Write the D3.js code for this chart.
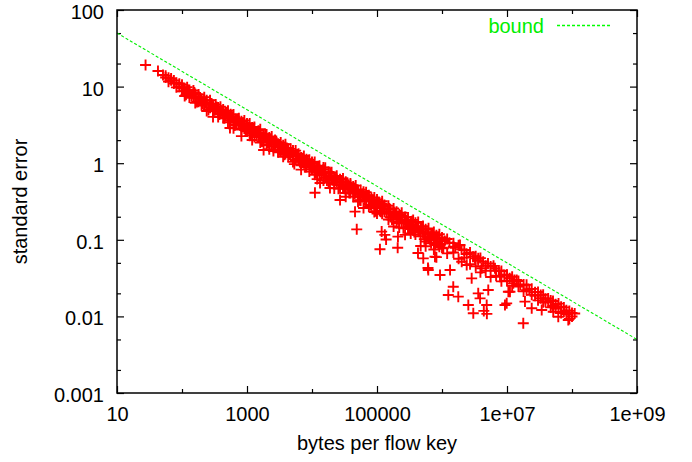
<!DOCTYPE html>
<html><head><meta charset="utf-8">
<script src="https://cdn.jsdelivr.net/npm/d3@7"></script>
<style>body{margin:0;background:#fff} svg text{font-family:"Liberation Sans",Arial,Helvetica,sans-serif}</style>
</head><body><svg id="c" width="692" height="462"></svg>
<script>
const xMajorTicks = [10, 1e3, 1e5, 1e7, 1e9];
const xTickLabels = ["10", "1000", "100000", "1e+07", "1e+09"];
const xMinorTicks = [1e2, 1e4, 1e6, 1e8];
const yMajorTicks = [0.001, 0.01, 0.1, 1, 10, 100];
const yTickLabels = ["0.001", "0.01", "0.1", "1", "10", "100"];
const yMinorTicks = [0.002, 0.005, 0.02, 0.05, 0.2, 0.5, 2, 5, 20, 50];
const boundX = [10, 1e9];
const boundY = [50, 0.005];

// measured points [bytes per flow key, standard error]
const mainBand = [
[27.5,19.1],[42.7,16.0],[51,14.2],[56,13.1],[56,13.9],[62,13.05],[62,11.6],[68,12.1],[68,12.8],[75,10.95],[75,12.0],[82,11.2],[82,9.78],[91,10.9],[91,9.94],
[100,10.6],[100,8.70],[110,9.49],[110,7.54],[120,9.81],[120,8.23],[130,9.02],[130,7.21],[150,8.91],[150,7.49],[160,8.00],[160,6.13],[180,7.89],[180,6.36],[200,6.93],[200,5.70],[220,7.25],[220,5.97],[240,6.64],[240,4.80],[270,6.64],[270,5.29],[300,5.75],[300,4.75],[300,4.02],[330,5.83],[330,5.05],[360,5.33],[360,4.00],[390,5.45],[390,4.41],[430,5.03],[430,3.89],[470,4.59],[470,4.16],[510,4.83],[510,3.43],[560,4.34],[560,3.61],[620,4.32],[620,2.86],[680,3.76],[680,3.21],[750,3.87],[750,3.23],[820,3.53],[820,2.76],[820,2.26],[910,3.62],[910,2.83],[547,2.88],
[1000,3.30],[1000,2.60],[1000,2.95],[1100,3.29],[1100,2.29],[1200,2.92],[1200,2.51],[1200,2.01],[1300,2.98],[1300,2.19],[1500,2.65],[1500,2.33],[1600,2.77],[1600,1.86],[1600,2.37],[1800,2.35],[1800,1.97],[1800,1.49],[2000,2.37],[2000,1.73],[2200,2.16],[2200,1.89],[2200,1.52],[2400,2.23],[2400,1.65],[2700,2.01],[2700,1.76],[3000,1.79],[3000,1.39],[3000,1.59],[3300,1.87],[3300,1.46],[3600,1.71],[3600,1.21],[3900,1.77],[3900,1.42],[3900,1.55],[4300,1.54],[4300,1.21],[4700,1.54],[4700,1.24],[5100,1.39],[5100,1.04],[5100,1.28],[5600,1.46],[5600,1.10],[6200,1.33],[6200,1.14],[6800,1.19],[6800,0.939],[6800,0.824],[7500,1.24],[7500,1.00],[8200,1.13],[8200,0.890],[8200,1.03],[9100,1.11],[9100,0.779],
[1e4,1.04],[1e4,0.838],[1e4,0.933],[1.1e4,1.04],[1.1e4,0.708],[1.2e4,0.909],[1.2e4,0.794],[1.2e4,0.620],[1.3e4,0.929],[1.3e4,0.694],[1.5e4,0.826],[1.5e4,0.736],[1.5e4,0.594],[1.6e4,0.875],[1.6e4,0.650],[1.8e4,0.766],[1.8e4,0.565],[1.8e4,0.683],[2e4,0.760],[2e4,0.604],[2.2e4,0.661],[2.2e4,0.533],[2.2e4,0.469],[2.4e4,0.684],[2.4e4,0.572],[2.7e4,0.616],[2.7e4,0.471],[2.7e4,0.568],[3e4,0.630],[3e4,0.484],[3.3e4,0.574],[3.3e4,0.409],[3.3e4,0.365],[3.6e4,0.525],[3.6e4,0.458],[3.9e4,0.545],[3.9e4,0.409],[3.9e4,0.481],[4.3e4,0.495],[4.3e4,0.366],[4.7e4,0.510],[4.7e4,0.408],[5.1e4,0.448],[5.1e4,0.364],[5.1e4,0.315],[5.6e4,0.448],[5.6e4,0.327],[6.2e4,0.400],[6.2e4,0.362],[6.2e4,0.260],[6.8e4,0.418],[6.8e4,0.321],[7.5e4,0.381],[7.5e4,0.271],[7.5e4,0.335],[8.2e4,0.353],[8.2e4,0.282],[9.1e4,0.356],[9.1e4,0.288],[9.1e4,0.231],
[1e5,0.335],[1e5,0.260],[1e5,0.220],[1.1e5,0.305],[1.1e5,0.267],[1.2e5,0.319],[1.2e5,0.219],[1.2e5,0.274],[1.3e5,0.285],[1.3e5,0.232],[1.5e5,0.278],[1.5e5,0.184],[1.5e5,0.233],[1.6e5,0.249],[1.6e5,0.198],[1.8e5,0.257],[1.8e5,0.205],[1.8e5,0.149],[2e5,0.233],[2e5,0.166],[2.2e5,0.216],[2.2e5,0.196],[2.2e5,0.145],[2.4e5,0.226],[2.4e5,0.165],[2.7e5,0.198],[2.7e5,0.164],[2.7e5,0.116],[3e5,0.196],[3e5,0.141],[3.3e5,0.173],[3.3e5,0.154],[3.3e5,0.121],[3.6e5,0.182],[3.6e5,0.132],[3.9e5,0.167],[3.9e5,0.117],[3.9e5,0.147],[4.3e5,0.171],[4.3e5,0.128],[4.7e5,0.148],[4.7e5,0.111],[4.7e5,0.0830],[5.1e5,0.151],[5.1e5,0.122],[5.6e5,0.137],[5.6e5,0.0950],[5.6e5,0.0824],[6.2e5,0.141],[6.2e5,0.104],[6.8e5,0.121],[6.8e5,0.0901],[6.8e5,0.109],[7.5e5,0.126],[7.5e5,0.0748],[8.2e5,0.115],[8.2e5,0.0925],[8.2e5,0.0594],[9.1e5,0.118],[9.1e5,0.0812],
[1e6,0.1075],[1e6,0.0791],[1.1e6,0.0964],[1.2e6,0.1025],[1.2e6,0.0664],[1.3e6,0.0915],[1.5e6,0.0904],[1.5e6,0.0684],[1.6e6,0.0788],[1.8e6,0.0848],[1.8e6,0.0565],[2e6,0.0749],[2.2e6,0.0736],[2.2e6,0.0586],[2.4e6,0.0653],[2.7e6,0.0683],[2.7e6,0.0481],[3e6,0.0603],[3.3e6,0.0609],[3.3e6,0.0452],[3.6e6,0.0541],[3.9e6,0.0577],[3.9e6,0.0376],[4.3e6,0.0518],[4.7e6,0.0459],[4.7e6,0.0394],[5.1e6,0.0490],[5.6e6,0.0448],[5.6e6,0.0327],[6.2e6,0.0457],[6.8e6,0.0394],[6.8e6,0.0339],[7.5e6,0.0398],[8.2e6,0.0392],[8.2e6,0.0287],[9.1e6,0.0346],
[1e7,0.0350],[1e7,0.0290],[1.1e7,0.0315],[1.2e7,0.0329],[1.2e7,0.0251],[1.3e7,0.0298],[1.5e7,0.0290],[1.5e7,0.0245],[1.6e7,0.0257],[1.8e7,0.0261],[1.8e7,0.0212],[2e7,0.0258],[2e7,0.0219],[2.2e7,0.0226],[2.4e7,0.0229],[2.4e7,0.0191],[2.7e7,0.0207],[2.7e7,0.0186],[3e7,0.0208],[3e7,0.0162],[3.3e7,0.0190],[3.3e7,0.0173],[3.6e7,0.0192],[3.6e7,0.0153],[3.9e7,0.0170],[3.9e7,0.0155],[4.3e7,0.0171],[4.3e7,0.0154],[4.7e7,0.0161],[4.7e7,0.0131],[5.1e7,0.0159],[5.1e7,0.0137],[5.6e7,0.0144],[5.6e7,0.0127],[6.2e7,0.0147],[6.2e7,0.0131],[6.8e7,0.0134],[6.8e7,0.0111],[7.5e7,0.0131],[7.5e7,0.0115],[8.2e7,0.0120],[8.2e7,0.0107],[9.1e7,0.0118],[9.1e7,0.00928],[1e8,0.0111],[1e8,0.00996],[1.1e8,0.0109]
];

const bandMiddle = [
[100,9.49],[110,8.74],[120,8.80],[130,8.18],[150,8.00],[160,7.13],[180,7.07],[200,6.37],[220,6.61],[240,5.92],[270,5.87],[300,5.30],[330,5.39],[360,4.75],[390,4.89],[430,4.50],[470,4.37],[510,4.06],[560,4.07],[620,3.62],[680,3.58],[750,3.52],[820,3.20],[910,3.25],
[1000,3.15],[1100,2.76],[1200,2.74],[1300,2.59],[1500,2.49],[1600,2.21],[1800,2.16],[2000,2.12],[2200,2.09],[2400,1.87],[2700,1.89],[3000,1.73],[3300,1.65],[3600,1.53],[3900,1.32],[4300,1.40],[4700,1.38],[5100,1.46],[5600,1.27],[6200,1.22],[6800,1.09],[7500,1.11],[8200,0.960],[9100,0.961],
[1e4,0.996],[1.1e4,0.874],[1.2e4,0.851],[1.3e4,0.832],[1.5e4,0.878],[1.6e4,0.738],[1.8e4,0.624],[2e4,0.682],[2.2e4,0.608],[2.4e4,0.623],[2.7e4,0.519],[3e4,0.557],[3.3e4,0.496],[3.6e4,0.491],[3.9e4,0.521],[4.3e4,0.442],[4.7e4,0.452],[5.1e4,0.413],[5.6e4,0.387],[6.2e4,0.425],[6.8e4,0.364],[7.5e4,0.364],[8.2e4,0.315],[9.1e4,0.320],
[1e5,0.300],[1.1e5,0.238],[1.2e5,0.297],[1.3e5,0.259],[1.5e5,0.253],[1.6e5,0.225],[1.8e5,0.231],[2e5,0.202],[2.2e5,0.172],[2.4e5,0.197],[2.7e5,0.183],[3e5,0.167],[3.3e5,0.138],[3.6e5,0.158],[3.9e5,0.132],[4.3e5,0.147],[4.7e5,0.129],[5.1e5,0.135],[5.6e5,0.122],[6.2e5,0.122],[6.8e5,0.0996],[7.5e5,0.104],[8.2e5,0.105],[9.1e5,0.0961]
];

const bandInterleaved = [
[105,9.57],[115,7.81],[125,9.05],[140,7.48],[155,8.38],[170,6.31],[190,7.23],[210,6.00],[230,6.25],[255,4.95],[285,6.00],[315,4.90],[345,5.36],[375,4.32],[410,4.84],[450,3.87],[490,4.64],[535,3.83],[590,3.97],[650,3.10],[715,3.78],[785,3.10],[865,3.34],[955,2.66],
[1050,2.98],[1150,2.42],[1250,2.86],[1400,2.32],[1550,2.49],[1700,1.92],[1900,2.39],[2100,1.86],[2300,2.01],[2550,1.44],[2850,1.87],[3150,1.49],[3450,1.62],[3750,1.29],[4100,1.58],[4500,1.30],[4900,1.38],[5350,0.973],[5900,1.30],[6500,1.04],[7150,1.12],[7850,0.893],[8650,1.09],[9550,0.890],
[1.05e4,0.926],[1.15e4,0.752],[1.25e4,0.891],[1.4e4,0.721],[1.55e4,0.775],[1.7e4,0.594],[1.9e4,0.734],[2.1e4,0.600],[2.3e4,0.625],[2.55e4,0.465],[2.85e4,0.581],[3.15e4,0.463],[3.45e4,0.553],[3.75e4,0.408],[4.1e4,0.469],[4.5e4,0.402],[4.9e4,0.450],[5.35e4,0.328],[5.9e4,0.397],[6.5e4,0.329],[7.15e4,0.378],[7.85e4,0.288],[8.65e4,0.323],[9.55e4,0.236],
[1.05e5,0.303],[1.15e5,0.233],[1.25e5,0.273],[1.4e5,0.224],[1.55e5,0.257],[1.7e5,0.184],[1.9e5,0.218],[2.1e5,0.186],[2.3e5,0.208],[2.55e5,0.141],[2.85e5,0.181],[3.15e5,0.147],[3.45e5,0.175],[3.75e5,0.126],[4.1e5,0.148],[4.5e5,0.127],[4.9e5,0.140],[5.35e5,0.102],[5.9e5,0.124],[6.5e5,0.102],[7.15e5,0.118],[7.85e5,0.0854],[8.65e5,0.104],[9.55e5,0.0875]
];

const outliers = [
[11100,0.412],[13300,0.552],[18900,0.474],[27000,0.331],[45900,0.233],[48800,0.137],
[111000,0.0752],[138000,0.101],[208000,0.0789],[118000,0.128],[132000,0.116],[210000,0.110],[427000,0.0673],[609000,0.0429],[932000,0.0347],
[515000,0.0573],[780000,0.0601],[1047000,0.0774],[1490000,0.0813],[1890000,0.0855],[615000,0.0404],[1330000,0.0404],[1490000,0.0244],[1250000,0.0190],[1780000,0.0181],[2540000,0.0141],[2010000,0.0518],[2400000,0.0469],[2860000,0.0314],[3610000,0.0573],[4080000,0.0425],[3610000,0.0200],[3850000,0.0172],[5150000,0.0221],[4870000,0.0141],[6530000,0.0425],[7800000,0.0330],[9890000,0.0347],[11100000,0.0210],[9890000,0.0148],[12500000,0.0270],[14100000,0.0299],[3220000,0.0573],
[3030000,0.0110],[4400000,0.0118],[4900000,0.0108],
[9310000,0.0141],[18900000,0.0156],[24000000,0.0128],[34200000,0.0121],[17800000,0.00813],[10500000,0.0210],[51500000,0.0115],[61500000,0.00991],[87700000,0.00898]
];

const L = 117, R = 637, T = 10, B = 393;
const FS = 20;
const x = d3.scaleLog().domain([10, 1e9]).range([L, R]);
const y = d3.scaleLog().domain([0.001, 100]).range([B, T]);
const svg = d3.select("#c");
svg.append("rect").attr("width", 692).attr("height", 462).attr("fill", "#fff");

function styleAxis(g) {
  g.select(".domain").remove();
  g.selectAll("line").attr("stroke", "#000").attr("stroke-width", 1.2);
  g.selectAll("text").attr("font-size", FS).attr("fill", "#000")
    .attr("font-family", '"Liberation Sans",Arial,Helvetica,sans-serif');
}
// bottom
svg.append("g").attr("transform", `translate(0,${B})`)
  .call(d3.axisBottom(x).tickValues(xMajorTicks).tickFormat((d, i) => xTickLabels[i]).tickSizeInner(-7).tickSizeOuter(0).tickPadding(13.8))
  .call(styleAxis);
svg.append("g").attr("transform", `translate(0,${B})`)
  .call(d3.axisBottom(x).tickValues(xMinorTicks).tickFormat("").tickSizeInner(-4).tickSizeOuter(0))
  .call(styleAxis);
// top
svg.append("g").attr("transform", `translate(0,${T})`)
  .call(d3.axisTop(x).tickValues(xMajorTicks).tickFormat("").tickSizeInner(-7).tickSizeOuter(0))
  .call(styleAxis);
svg.append("g").attr("transform", `translate(0,${T})`)
  .call(d3.axisTop(x).tickValues(xMinorTicks).tickFormat("").tickSizeInner(-4).tickSizeOuter(0))
  .call(styleAxis);
// left
svg.append("g").attr("transform", `translate(${L},0)`)
  .call(d3.axisLeft(y).tickValues(yMajorTicks).tickFormat((d, i) => yTickLabels[i]).tickSizeInner(-7).tickSizeOuter(0).tickPadding(13))
  .call(styleAxis)
  .call(g => g.selectAll("text").attr("dy", "0.42em"));
svg.append("g").attr("transform", `translate(${L},0)`)
  .call(d3.axisLeft(y).tickValues(yMinorTicks).tickFormat("").tickSizeInner(-4).tickSizeOuter(0))
  .call(styleAxis);
// right
svg.append("g").attr("transform", `translate(${R},0)`)
  .call(d3.axisRight(y).tickValues(yMajorTicks).tickFormat("").tickSizeInner(-7).tickSizeOuter(0))
  .call(styleAxis);
svg.append("g").attr("transform", `translate(${R},0)`)
  .call(d3.axisRight(y).tickValues(yMinorTicks).tickFormat("").tickSizeInner(-4).tickSizeOuter(0))
  .call(styleAxis);

// points
const pts = mainBand.concat(bandMiddle, bandInterleaved, outliers);
svg.append("g").selectAll("path").data(pts).join("path")
  .attr("d", "M-5.5,0H5.5M0,-5.5V5.5")
  .attr("transform", d => `translate(${x(d[0])},${y(d[1])})`)
  .attr("fill", "none").attr("stroke", "#ff0000").attr("stroke-width", 1.9);

// bound
const boundData = boundX.map((v, i) => [v, boundY[i]]);
svg.append("path").datum(boundData)
  .attr("d", d3.line().x(d => x(d[0])).y(d => y(d[1])))
  .attr("fill", "none").attr("stroke", "#00ee00").attr("stroke-width", 1.1).attr("stroke-dasharray", "3,2");

// legend
svg.append("text").attr("x", 544).attr("y", 33).attr("text-anchor", "end")
  .attr("font-size", FS).attr("fill", "#00ee00").text("bound");
svg.append("line").attr("x1", 557).attr("x2", 611).attr("y1", 25.5).attr("y2", 25.5)
  .attr("stroke", "#00ff00").attr("stroke-width", 1.4).attr("stroke-dasharray", "3,2");

// frame
svg.append("rect").attr("x", L).attr("y", T).attr("width", R - L).attr("height", B - T)
  .attr("fill", "none").attr("stroke", "#000").attr("stroke-width", 1.5);

// titles
svg.append("text").attr("x", (L + R) / 2).attr("y", 450).attr("text-anchor", "middle")
  .attr("font-size", FS).attr("fill", "#000").text("bytes per flow key");
svg.append("text").attr("transform", `translate(27,${(T + B) / 2}) rotate(-90)`).attr("text-anchor", "middle")
  .attr("font-size", FS).attr("fill", "#000").text("standard error");
</script></body></html>
